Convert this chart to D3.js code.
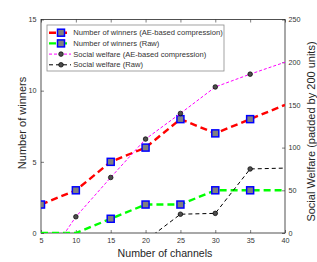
<!DOCTYPE html>
<html><head><meta charset="utf-8">
<script src="https://cdn.jsdelivr.net/npm/d3@7/dist/d3.min.js"></script>
<style>html,body{margin:0;padding:0;background:#fff;}svg{display:block;font-family:"Liberation Sans",Arial,sans-serif;}</style>
</head><body>
<svg id="chart" width="317" height="262"></svg>
<script>
const channels = [5, 10, 15, 20, 25, 30, 35, 40];
const winnersAE = [2, 3, 5, 6, 8, 7, 8, 9];
const winnersRaw = [0, 0, 1, 2, 2, 3, 3, 3];
const welfareAE = [-41, 19, 65, 110, 140, 171, 186, 200];
const welfareRaw = [-100, -70, -40, -9, 22, 23, 75, 76];
const xTicks = [5, 10, 15, 20, 25, 30, 35, 40];
const yLeftTicks = [0, 5, 10, 15];
const yRightTicks = [0, 50, 100, 150, 200, 250];
const legendLabels = ["Number of winners (AE-based compression)", "Number of winners (Raw)", "Social welfare (AE-based compression)", "Social welfare (Raw)"];

const svg = d3.select("#chart");
const L = 41, R = 285, T = 19.5, B = 233;
const x = d3.scaleLinear().domain([5, 40]).range([L, R]);
const yL = d3.scaleLinear().domain([0, 15]).range([B, T]);
const yR = d3.scaleLinear().domain([0, 250]).range([B, T]);
const axisColor = "#262626";

svg.append("defs").append("clipPath").attr("id", "clip")
  .append("rect").attr("x", L).attr("y", T).attr("width", R - L).attr("height", B - T);

const tickFont = 7.2;
function styleAxis(g) {
  g.select(".domain").remove();
  g.selectAll("line").attr("stroke", axisColor).attr("stroke-width", 0.6);
  g.selectAll("text").attr("fill", "#333").attr("font-size", tickFont).attr("font-family", "Liberation Sans, Arial, sans-serif");
}
svg.append("g").attr("transform", `translate(0,${B})`)
  .call(d3.axisBottom(x).tickValues(xTicks).tickSize(-3).tickPadding(4.5).tickFormat(d3.format("d")))
  .call(styleAxis);
svg.append("g").attr("transform", `translate(0,${T})`)
  .call(d3.axisTop(x).tickValues(xTicks).tickSize(-3).tickFormat(""))
  .call(styleAxis);
svg.append("g").attr("transform", `translate(${L},0)`)
  .call(d3.axisLeft(yL).tickValues(yLeftTicks).tickSize(-3).tickPadding(4.5).tickFormat(d3.format("d")))
  .call(styleAxis);
svg.append("g").attr("transform", `translate(${R},0)`)
  .call(d3.axisRight(yR).tickValues(yRightTicks).tickSize(-3).tickPadding(3.5).tickFormat(d3.format("d")))
  .call(styleAxis);

svg.append("rect").attr("x", L).attr("y", T).attr("width", R - L).attr("height", B - T)
  .attr("fill", "none").attr("stroke", axisColor).attr("stroke-width", 0.8);

const series = [
  {vals: winnersAE, y: yL, color: "#ff0000", width: 2.4, dash: "7,4", marker: "square"},
  {vals: winnersRaw, y: yL, color: "#00ff00", width: 2.4, dash: "7,4", marker: "square"},
  {vals: welfareAE, y: yR, color: "#ff00ff", width: 1, dash: "3,2", marker: "circle"},
  {vals: welfareRaw, y: yR, color: "#000000", width: 1, dash: "4,3", marker: "circle"}
];
const plot = svg.append("g").attr("clip-path", "url(#clip)");
series.forEach(s => {
  const pts = channels.map((c, i) => [c, s.vals[i]]);
  plot.append("path").datum(pts)
    .attr("d", d3.line().x(d => x(d[0])).y(d => s.y(d[1])))
    .attr("fill", "none").attr("stroke", s.color).attr("stroke-width", s.width)
    .attr("stroke-dasharray", s.dash);
  const mpts = pts.filter(d => d[0] < 40 && d[1] > s.y.domain()[0]);
  if (s.marker === "square") {
    plot.selectAll(null).data(mpts).enter().append("rect")
      .attr("x", d => x(d[0]) - 3.5).attr("y", d => s.y(d[1]) - 3.5)
      .attr("width", 7).attr("height", 7)
      .attr("fill", "#808080").attr("stroke", "#0000ff").attr("stroke-width", 1.5);
  } else {
    plot.selectAll(null).data(mpts).enter().append("circle")
      .attr("cx", d => x(d[0])).attr("cy", d => s.y(d[1])).attr("r", 2.3)
      .attr("fill", "#4d4d4d").attr("stroke", "#000").attr("stroke-width", 0.7);
  }
});

const lg = svg.append("g");
lg.append("rect").attr("x", 47).attr("y", 25).attr("width", 177).attr("height", 46)
  .attr("fill", "#fff").attr("stroke", "#8c8c8c").attr("stroke-width", 0.8);
series.forEach((s, i) => {
  const cy = 32.7 + i * 10.7;
  lg.append("line").attr("x1", 49).attr("x2", 71).attr("y1", cy).attr("y2", cy)
    .attr("stroke", s.color).attr("stroke-width", s.width).attr("stroke-dasharray", s.dash);
  if (s.marker === "square") {
    lg.append("rect").attr("x", 61 - 3.5).attr("y", cy - 3.5).attr("width", 7).attr("height", 7)
      .attr("fill", "#808080").attr("stroke", "#0000ff").attr("stroke-width", 1.5);
  } else {
    lg.append("circle").attr("cx", 61).attr("cy", cy).attr("r", 2.3)
      .attr("fill", "#4d4d4d").attr("stroke", "#000").attr("stroke-width", 0.7);
  }
  lg.append("text").attr("x", 73.3).attr("y", cy).attr("dy", "0.35em")
    .attr("font-size", 7.6).attr("fill", "#333").text(legendLabels[i]);
});

svg.append("text").attr("x", (L + R) / 2 + 2).attr("y", 257).attr("text-anchor", "middle")
  .attr("font-size", 10.6).attr("fill", axisColor).text("Number of channels");
svg.append("text").attr("transform", "translate(26,123) rotate(-90)").attr("text-anchor", "middle")
  .attr("font-size", 11).attr("fill", axisColor).text("Number of winners");
svg.append("text").attr("transform", "translate(315,131.5) rotate(-90)").attr("text-anchor", "middle")
  .attr("font-size", 11).attr("fill", axisColor).text("Social Welfare (padded by 200 units)");
</script>
</body></html>
